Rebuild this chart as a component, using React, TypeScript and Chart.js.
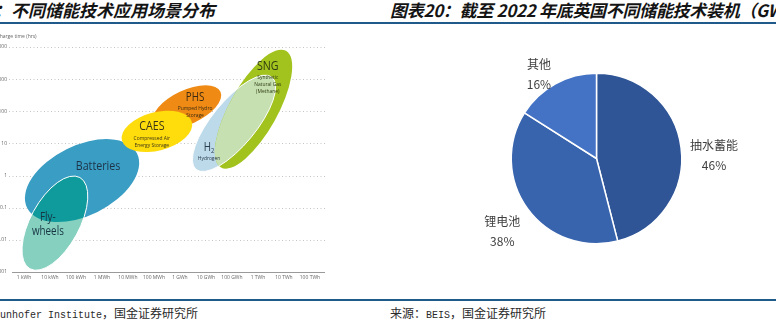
import React, { useEffect, useRef } from 'react';
import { Chart, registerables } from 'chart.js';
Chart.register(...registerables);

// ---------- texts ----------
const leftTitle = '：不同储能技术应用场景分布';
const rightTitle = '图表20：截至 2022 年底英国不同储能技术装机（GW）';
const leftSourceLatin = 'unhofer Institute';
const leftSourceCjk = '，国金证券研究所';
const rightSourceHead = '来源：';
const rightSourceLatin = 'BEIS';
const rightSourceCjk = '，国金证券研究所';

// ---------- left diagram data (log10 units) ----------
const energyTickValues = [0, 1, 2, 3, 4, 5, 6, 7, 8, 9, 10, 11]; // log10(kWh)
const energyTickLabels = ['1 kWh', '10 kWh', '100 kWh', '1 MWh', '10 MWh', '100 MWh', '1 GWh', '10 GWh', '100 GWh', '1 TWh', '10 TWh', '100 TWh'];
const hourTickValues = [-3, -2, -1, 0, 1, 2, 3, 4]; // log10(hrs)
const hourTickLabels = ['0.001', '0.01', '0.1', '1', '10', '100', '1000', '10000'];
const yAxisTitle = 'Discharge time (hrs)';

const techNames = ['Batteries', 'Flywheels', 'PHS', 'CAES', 'H2', 'SNG'];
const techEnergyFrom = [0.12, 0.23, 4.98, 3.77, 6.62, 7.58];
const techEnergyTo = [4.35, 2.15, 7.56, 6.46, 9.54, 10.08];
const techHoursFrom = [-1.0, -2.9, 1.64, 1.09, 0.19, 0.25];
const techHoursTo = [0.69, -0.06, 2.61, 1.66, 3.06, 3.88];
const techWidthRatio = [0.57, 0.47, 0.46, 0.53, 0.37, 0.36];
const techTitleLines = [['Batteries'], ['Fly-', 'wheels'], ['PHS'], ['CAES'], ['H2'], ['SNG']];
const techSubLines = [[], [], ['Pumped Hydro', 'Storage'], ['Compressed Air', 'Energy Storage'], ['Hydrogen'], ['Synthetic', 'Natural Gas', '(Methane)']];
const techLabelEnergy = [2.85, 0.92, 6.58, 4.92, 7.12, 9.38];
const techLabelHours = [0.28, -1.31, 2.44, 1.53, 0.875, 3.41];

// styles
const techColors = ['#3a9dc4', '#86d0c0', '#ef8b14', '#ffdc0c', '#bddaea', '#a2c31d'];
const techOutline = ['', '#ffffff', '', '', '#ffffff', ''];
const techTitleSize = [13, 12, 12, 13, 12, 13];
const techTextColor = ['#1d3347', '#173542', '#3a2a12', '#3a3418', '#2a3c4c', '#2e3a12'];
const overlapPairs: [number, number, string][] = [
  [1, 0, '#0f9a9c'],
  [4, 5, '#c6e0b1'],
];

// ---------- right pie data ----------
const pieLabels = ['抽水蓄能', '锂电池', '其他'];
const pieValues = [46, 38, 16];
const pieColors = ['#2f5597', '#3864ae', '#4472c4'];

const diagramPlugin = {
  id: 'diagram',
  beforeDatasetsDraw(chart: any) {
    const { ctx, chartArea: ca, scales } = chart;
    const xs = scales.x;
    const ys = scales.y;
    ctx.save();
    // dotted grid
    ctx.strokeStyle = '#c4c4c4';
    ctx.lineWidth = 1;
    ctx.setLineDash([1, 2.5]);
    hourTickValues.forEach((v) => {
      if (v === ys.min) return;
      const py = Math.round(ys.getPixelForValue(v)) + 0.5;
      ctx.beginPath();
      ctx.moveTo(ca.left - 3, py);
      ctx.lineTo(ca.right, py);
      ctx.stroke();
    });
    ctx.setLineDash([]);
    // axis line
    ctx.strokeStyle = '#9a9a9a';
    ctx.lineWidth = 1.2;
    const by = Math.round(ys.getPixelForValue(ys.min)) + 0.5;
    ctx.beginPath();
    ctx.moveTo(ca.left, by);
    ctx.lineTo(ca.right, by);
    ctx.stroke();
    // tick labels
    ctx.font = '5px "Open Sans"';
    ctx.fillStyle = '#666';
    ctx.textBaseline = 'middle';
    ctx.textAlign = 'right';
    hourTickValues.forEach((v, i) => ctx.fillText(hourTickLabels[i], ca.left - 5, ys.getPixelForValue(v)));
    ctx.textAlign = 'center';
    energyTickValues.forEach((v, i) => ctx.fillText(energyTickLabels[i], xs.getPixelForValue(v), ca.bottom + 6));
    ctx.textAlign = 'left';
    ctx.fillText(yAxisTitle, ca.left - 22, ys.getPixelForValue(ys.max) - 10);

    // ellipses
    const paths = techNames.map((_, i) => {
      const x1 = xs.getPixelForValue(techEnergyFrom[i]);
      const y1 = ys.getPixelForValue(techHoursFrom[i]);
      const x2 = xs.getPixelForValue(techEnergyTo[i]);
      const y2 = ys.getPixelForValue(techHoursTo[i]);
      const a = Math.hypot(x2 - x1, y2 - y1) / 2;
      const p = new Path2D();
      p.ellipse((x1 + x2) / 2, (y1 + y2) / 2, a, a * techWidthRatio[i], Math.atan2(y2 - y1, x2 - x1), 0, Math.PI * 2);
      return p;
    });
    paths.forEach((p, i) => {
      ctx.fillStyle = techColors[i];
      ctx.fill(p);
    });
    overlapPairs.forEach(([top, base, color]) => {
      ctx.save();
      ctx.clip(paths[base]);
      ctx.fillStyle = color;
      ctx.fill(paths[top]);
      ctx.restore();
    });
    paths.forEach((p, i) => {
      if (!techOutline[i]) return;
      ctx.strokeStyle = techOutline[i];
      ctx.lineWidth = 1;
      ctx.stroke(p);
    });

    // labels
    const drawText = (t: string, px: number, py: number, size: number, color: string) => {
      ctx.save();
      ctx.translate(px, py);
      ctx.scale(0.82, 1);
      ctx.font = `${size}px "Open Sans"`;
      ctx.fillStyle = color;
      ctx.textAlign = 'center';
      ctx.textBaseline = 'middle';
      if (t === 'H2') {
        const w = ctx.measureText('H').width;
        ctx.fillText('H', -2, 0);
        ctx.font = `${size * 0.6}px "Open Sans"`;
        ctx.fillText('2', -2 + w / 2 + 2, size * 0.3);
      } else {
        ctx.fillText(t, 0, 0);
      }
      ctx.restore();
    };
    techNames.forEach((_, i) => {
      const px = xs.getPixelForValue(techLabelEnergy[i]);
      let py = ys.getPixelForValue(techLabelHours[i]);
      techTitleLines[i].forEach((t, k) => drawText(t, px, py + k * 14, techTitleSize[i], techTextColor[i]));
      py += (techTitleLines[i].length - 1) * 14 + techTitleSize[i] * 0.5 + 5;
      techSubLines[i].forEach((t, k) => drawText(t, px, py + k * 7, 6, techTextColor[i]));
    });
    ctx.restore();
  },
};

const pieLabelPlugin = {
  id: 'pieLabels',
  afterDatasetsDraw(chart: any) {
    const ctx = chart.ctx;
    const meta = chart.getDatasetMeta(0);
    const total = pieValues.reduce((s, v) => s + v, 0);
    ctx.save();
    ctx.font = '12px "Noto Sans CJK SC"';
    ctx.fillStyle = '#404040';
    ctx.textAlign = 'center';
    ctx.textBaseline = 'middle';
    meta.data.forEach((arc: any, i: number) => {
      const { x, y, startAngle, endAngle, outerRadius } = arc.getProps(['x', 'y', 'startAngle', 'endAngle', 'outerRadius'], true);
      const mid = (startAngle + endAngle) / 2;
      const dx = Math.cos(mid);
      const dy = Math.sin(mid);
      const name = pieLabels[i];
      const pct = Math.round((pieValues[i] / total) * 100) + '%';
      const w = Math.max(ctx.measureText(name).width, ctx.measureText(pct).width);
      const ax = x + dx * (outerRadius + 9);
      const ay = y + dy * (outerRadius + 6);
      const cx = ax + Math.sign(dx) * w / 2;
      const cy = ay + 10 + 16 * dy;
      ctx.fillText(name, cx, cy - 10);
      ctx.fillText(pct, cx, cy + 10);
    });
    ctx.restore();
  },
};

export default function App() {
  const leftRef = useRef<HTMLCanvasElement>(null);
  const rightRef = useRef<HTMLCanvasElement>(null);

  useEffect(() => {
    const lc = new Chart(leftRef.current as HTMLCanvasElement, {
      type: 'scatter',
      data: {
        datasets: [
          {
            data: techNames.map((_, i) => ({
              x: (techEnergyFrom[i] + techEnergyTo[i]) / 2,
              y: (techHoursFrom[i] + techHoursTo[i]) / 2,
            })),
            pointRadius: 0,
          },
        ],
      },
      options: {
        responsive: false,
        animation: false,
        devicePixelRatio: 1,
        layout: { padding: { left: 12, right: 63, top: 47, bottom: 24 } },
        scales: {
          x: { type: 'linear', min: -0.46, max: 11.58, display: false },
          y: { type: 'linear', min: -3, max: 4, display: false },
        },
        plugins: { legend: { display: false }, tooltip: { enabled: false } },
      },
      plugins: [diagramPlugin],
    } as any);

    const rc = new Chart(rightRef.current as HTMLCanvasElement, {
      type: 'pie',
      data: {
        labels: pieLabels,
        datasets: [
          {
            data: pieValues,
            backgroundColor: pieColors,
            borderColor: '#ffffff',
            borderWidth: 1.5,
          },
        ],
      },
      options: {
        responsive: false,
        animation: false,
        devicePixelRatio: 1,
        layout: { padding: { left: 122.5, right: 93.5, top: 48.5, bottom: 51.5 } },
        plugins: { legend: { display: false }, tooltip: { enabled: false } },
      },
      plugins: [pieLabelPlugin],
    } as any);

    return () => {
      lc.destroy();
      rc.destroy();
    };
  }, []);

  const titleStyle: React.CSSProperties = {
    position: 'absolute',
    top: 0,
    height: 20,
    lineHeight: '20px',
    fontFamily: '"Noto Sans CJK SC", sans-serif',
    fontSize: 17,
    fontWeight: 700,
    fontStyle: 'italic',
    color: '#141414',
    whiteSpace: 'nowrap',
  };
  const sourceStyle: React.CSSProperties = {
    position: 'absolute',
    top: 305,
    height: 16,
    lineHeight: '16px',
    fontFamily: '"Noto Sans CJK SC", sans-serif',
    fontSize: 12,
    color: '#2a2a2a',
    whiteSpace: 'nowrap',
  };
  const latin: React.CSSProperties = { fontFamily: '"Liberation Mono", monospace', fontSize: 10 };
  const lineStyle = (top: number): React.CSSProperties => ({
    position: 'absolute',
    left: 0,
    top,
    width: 776,
    height: 2,
    background: '#1f5a8a',
  });

  return (
    <div
      style={{
        position: 'fixed',
        left: 0,
        top: 0,
        width: 776,
        height: 324,
        overflow: 'hidden',
        background: '#ffffff',
      }}
    >
      <div style={{ ...titleStyle, left: -6 }}>{leftTitle}</div>
      <div style={{ ...titleStyle, left: 390, letterSpacing: '-0.3px' }}>{rightTitle}</div>
      <div style={lineStyle(22)} />
      <canvas ref={leftRef} width={388} height={296} style={{ position: 'absolute', left: 0, top: 0 }} />
      <canvas ref={rightRef} width={388} height={272} style={{ position: 'absolute', left: 388, top: 24 }} />
      <div style={lineStyle(299)} />
      <div style={{ ...sourceStyle, left: 0 }}>
        <span style={latin}>{leftSourceLatin}</span>
        {leftSourceCjk}
      </div>
      <div style={{ ...sourceStyle, left: 390 }}>
        {rightSourceHead}
        <span style={latin}>{rightSourceLatin}</span>
        {rightSourceCjk}
      </div>
    </div>
  );
}
